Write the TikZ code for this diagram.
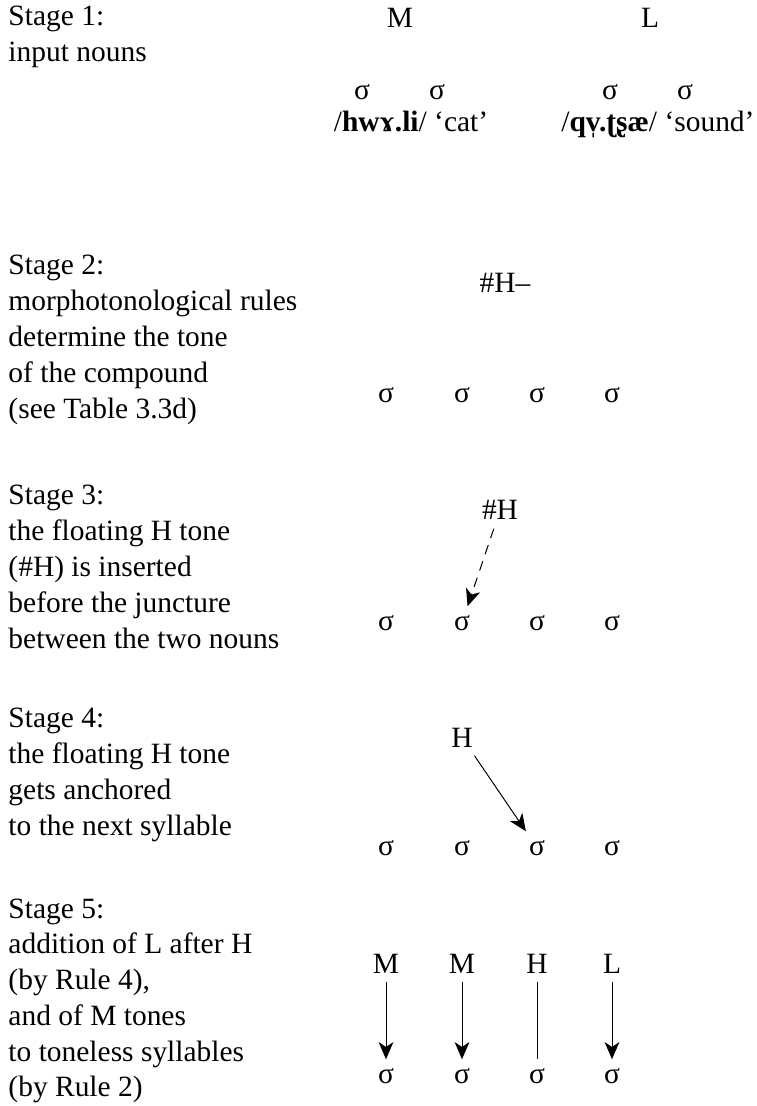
\documentclass[tikz,border=0pt]{standalone}
\usepackage{fontspec}
\setmainfont{Liberation Serif}
\usetikzlibrary{arrows.meta}

\begin{document}
\begin{tikzpicture}[x=0.4074pt,y=-0.4074pt,
  every node/.style={font=\fontsize{12}{14.58}\selectfont},
  stage/.style={anchor=north west,align=left,inner sep=0pt},
  tone/.style={anchor=base},
  link/.style={-{Stealth[length=7pt,width=6pt,inset=2pt]}}]
\useasboundingbox (0,0) rectangle (756,1106);

\node[stage] (st1) at (8,6) {Stage 1:\\input nouns};
\node[tone] (M1) at (400,28) {M};
\node[tone] (L1) at (650,28) {L};
\node[tone] (s11) at (362,100) {σ};
\node[tone] (s12) at (437,100) {σ};
\node[tone] (s13) at (610,100) {σ};
\node[tone] (s14) at (685,100) {σ};
\node[tone,inner sep=0pt] (cat) at (411,132) {/\textbf{hwɤ.li}/ ‘cat’};
\node[tone,anchor=base east,inner sep=0pt] (sound) at (755,132) {/\textbf{qv̩.ʈʂæ}/ ‘sound’};

\node[stage] (st2) at (8,255) {Stage 2:\\morphotonological rules\\determine the tone\\of the compound\\(see Table 3.3d)};
\node[tone] (h2) at (505,293) {\#H–};
\node[tone] (s21) at (386,403) {σ};
\node[tone] (s22) at (462,403) {σ};
\node[tone] (s23) at (537,403) {σ};
\node[tone] (s24) at (612,403) {σ};

\node[stage] (st3) at (8,485) {Stage 3:\\the floating H tone\\(\#H) is inserted\\before the juncture\\between the two nouns};
\node[tone] (h3) at (500,520) {\#H};
\node[tone] (s31) at (386,630) {σ};
\node[tone] (s32) at (462,630) {σ};
\node[tone] (s33) at (537,630) {σ};
\node[tone] (s34) at (612,630) {σ};
\draw[link,dash pattern=on 4pt off 3pt] (h3) -- (s32);

\node[stage] (st4) at (8,708) {Stage 4:\\the floating H tone\\gets anchored\\to the next syllable};
\node[tone] (h4) at (462,747) {H};
\node[tone] (s41) at (386,855) {σ};
\node[tone] (s42) at (462,855) {σ};
\node[tone] (s43) at (537,855) {σ};
\node[tone] (s44) at (612,855) {σ};
\draw[link] (h4) -- (s43);

\node[stage] (st5) at (8,898) {Stage 5:\\addition of L after H\\(by Rule 4),\\and of M tones\\to toneless syllables\\(by Rule 2)};
\node[tone] (t1) at (386,973) {M};
\node[tone] (t2) at (462,973) {M};
\node[tone] (t3) at (537,973) {H};
\node[tone] (t4) at (612,973) {L};
\node[tone] (s51) at (386,1083) {σ};
\node[tone] (s52) at (462,1083) {σ};
\node[tone] (s53) at (537,1083) {σ};
\node[tone] (s54) at (612,1083) {σ};
\draw[link] (t1) -- (s51);
\draw[link] (t2) -- (s52);
\draw (t3) -- (s53);
\draw[link] (t4) -- (s54);

\end{tikzpicture}
\end{document}
